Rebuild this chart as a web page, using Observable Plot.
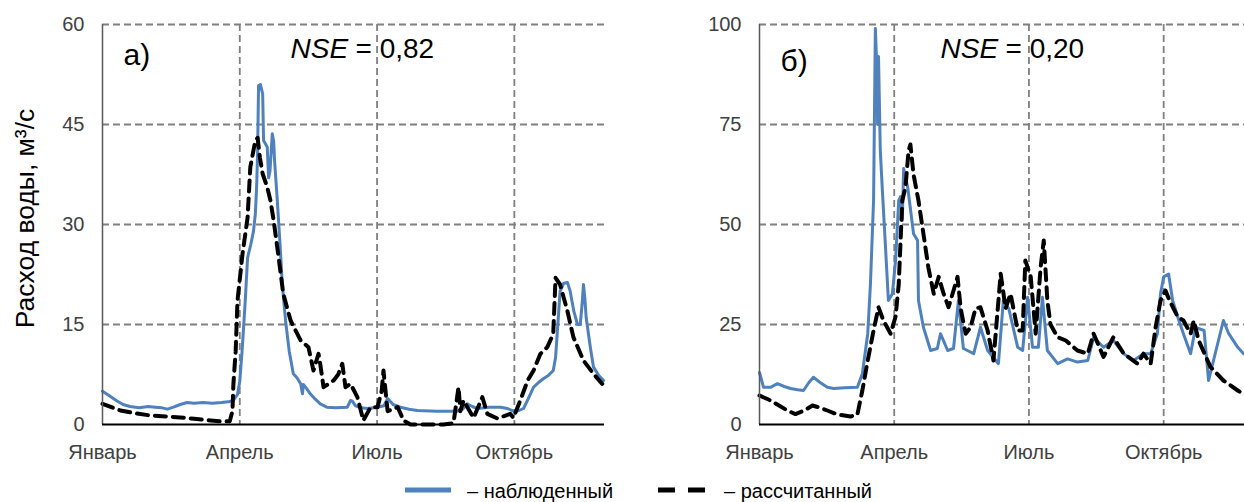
<!DOCTYPE html>
<html><head><meta charset="utf-8">
<script src="https://cdn.jsdelivr.net/npm/d3@7"></script>
<script src="https://cdn.jsdelivr.net/npm/@observablehq/plot@0.6"></script>
<style>
body{margin:0;background:#fff;font-family:"Liberation Sans",Arial,sans-serif;}
#wrap{position:relative;width:1244px;height:502px;overflow:hidden;background:#fff;}
#pa{position:absolute;left:0;top:0;}
#pb{position:absolute;left:640px;top:0;}
#legend{position:absolute;left:0;top:470px;}
</style></head><body>
<div id="wrap"><div id="pa"></div><div id="pb"></div>
<svg id="legend" width="1244" height="32" font-family="Liberation Sans, Arial, sans-serif" font-size="20">
  <line x1="405" x2="451" y1="20" y2="20" stroke="#4f81bd" stroke-width="5"/>
  <text x="467" y="28" fill="#000">– наблюденный</text>
  <line x1="658" x2="675" y1="20" y2="20" stroke="#000" stroke-width="5"/>
  <line x1="688" x2="705" y1="20" y2="20" stroke="#000" stroke-width="5"/>
  <text x="724" y="28" fill="#000">– рассчитанный</text>
</svg>
</div>
<script>
// month index (0 = 1 January, 3 = 1 April ...)
const monthTicks = [0, 3, 6, 9];
const monthNames = ["Январь", "Апрель", "Июль", "Октябрь"];
const yTicksA = [0, 15, 30, 45, 60];
const yTicksB = [0, 25, 50, 75, 100];
const yTitle = "Расход воды, м³/с";
const labelA = "а)";
const labelB = "б)";
const nseA = "0,82";
const nseB = "0,20";

// Panel a) observed
const aObsT = [0,0.15,0.3,0.45,0.6,0.8,1.0,1.15,1.3,1.42,1.55,1.7,1.85,2.0,2.2,2.4,2.6,2.75,2.86,2.95,3.0,3.05,3.12,3.17,3.24,3.3,3.34,3.37,3.39,3.41,3.45,3.5,3.52,3.57,3.6,3.63,3.66,3.71,3.74,3.76,3.82,3.88,3.93,4.0,4.08,4.17,4.25,4.33,4.37,4.39,4.45,4.54,4.65,4.76,4.9,5.1,5.35,5.42,5.46,5.53,5.65,5.79,6.01,6.15,6.23,6.35,6.51,6.7,6.88,7.3,7.76,7.87,7.97,8.08,8.19,8.45,8.7,8.85,8.98,9.1,9.2,9.3,9.42,9.53,9.64,9.75,9.85,9.9,9.93,9.96,10.0,10.08,10.16,10.22,10.3,10.38,10.44,10.48,10.51,10.54,10.57,10.66,10.73,10.85,10.95];
const aObsQ = [5.0,4.3,3.6,3.0,2.7,2.5,2.7,2.6,2.5,2.3,2.6,3.0,3.3,3.2,3.3,3.2,3.3,3.4,3.6,4.5,6.5,11,18.6,25,27,29,31.6,36,41,50.8,51,49.6,42.6,42,41.6,37,38,43.6,42.5,39.6,33.6,27,21,15.6,11,7.6,7,6.1,4.6,6,5.5,4.6,3.8,3.1,2.6,2.5,2.6,3.6,3.5,2.8,2.5,2.4,2.6,2.8,3.9,3.0,2.6,2.3,2.1,2.0,2.0,2.3,3.1,2.7,2.4,2.6,2.6,2.4,2.0,2.1,2.4,3.8,5.6,6.3,6.9,7.4,8.1,10,13,16,20,21.2,21.3,20,17,15,15,18,21,19,16,11.6,8.6,7.3,6.6];
// Panel a) simulated
const aSimT = [0,0.39,0.7,1.05,1.4,1.7,2.0,2.36,2.62,2.78,2.84,2.86,2.91,2.95,3.06,3.17,3.23,3.34,3.39,3.44,3.5,3.6,3.67,3.74,3.85,3.95,4.11,4.33,4.5,4.61,4.72,4.76,4.83,5.05,5.15,5.24,5.31,5.42,5.57,5.7,5.86,6.01,6.1,6.14,6.23,6.45,6.58,6.73,7.1,7.45,7.67,7.78,7.82,7.89,8.11,8.3,8.41,8.63,8.91,8.98,9.13,9.29,9.42,9.57,9.72,9.85,9.9,10.0,10.16,10.29,10.51,10.73,10.92];
const aSimQ = [3.1,2.1,1.7,1.35,1.2,1.05,0.85,0.6,0.45,0.5,2,6,11,18.6,25.6,31,38.6,42.6,43,40,37.6,35.6,33.6,30.6,25,19.6,15.6,12.6,11.6,8.1,10.6,9,5.6,6.6,7.5,9.1,5.6,6.1,4.1,0.6,2.6,2.6,5,8.1,2,2.6,0.6,0,0,0,0.2,5.6,2,3.6,1,4.1,1.6,0.9,1.6,1,3.6,6.6,8.1,10.6,11.6,13.6,22,21,17,13.1,9.6,7.6,6.1];

// Panel б) observed
const bObsT = [0,0.09,0.245,0.4,0.55,0.69,0.85,0.98,1.1,1.2,1.35,1.51,1.65,1.9,2.18,2.29,2.41,2.47,2.54,2.58,2.61,2.63,2.65,2.69,2.74,2.81,2.87,2.96,3.03,3.1,3.14,3.18,3.21,3.3,3.36,3.43,3.52,3.54,3.65,3.81,3.96,4.03,4.19,4.32,4.43,4.54,4.63,4.77,4.92,5.08,5.32,5.43,5.55,5.75,5.86,5.97,6.08,6.21,6.3,6.41,6.64,6.86,7.08,7.31,7.44,7.66,7.88,8.11,8.33,8.55,8.71,8.86,8.93,9.0,9.11,9.2,9.31,9.44,9.6,9.71,9.9,10.0,10.11,10.33,10.45,10.65,10.78];
const bObsQ = [13,9.3,9.3,10.2,9.5,9,8.7,8.5,10.5,11.8,10.5,9.3,9,9.2,9.3,12.7,22.7,35,56,99,90,75,92,68.5,57.7,43.5,31,32.7,41,56,57,51,64,59.3,54,47.7,46,31,24.3,18.5,19,22.7,18.5,19,31,19,18.5,17.7,24.3,18.5,15.2,31,29,19.3,18.5,31.8,19.3,19.3,31.8,18.5,15.2,16.4,15.6,16,21.8,19.3,21,17.7,16,17.7,17.7,22.7,32.7,36.9,37.6,31,27,22.7,17.7,24.3,23.5,11,16,26,22.7,19.3,17.7];
// Panel б) simulated
const bSimT = [0,0.245,0.62,0.8,1.0,1.07,1.18,1.35,1.51,1.74,2.03,2.18,2.29,2.41,2.54,2.65,2.76,2.92,3.03,3.1,3.18,3.25,3.32,3.36,3.43,3.54,3.65,3.76,3.88,3.99,4.1,4.21,4.41,4.48,4.59,4.7,4.81,4.92,5.08,5.21,5.37,5.48,5.59,5.75,5.86,5.92,6.04,6.15,6.26,6.33,6.41,6.48,6.64,6.82,7.08,7.31,7.44,7.66,7.88,8.11,8.42,8.55,8.71,8.82,8.93,9.04,9.13,9.31,9.44,9.6,9.67,9.78,10.04,10.33,10.65,10.78];
const bSimQ = [7.25,6,3.5,2.6,3.5,4,4.75,4.2,3.5,2.5,2,2.5,8.5,16,23.5,29.3,26,22.7,27,35,56,59.3,68.5,70,62.5,56,47.7,39.3,32.7,36.9,32.7,29.3,36.9,29,22.7,24.3,29,29.3,23.5,16,37.7,29,32.7,23.5,23.5,41,36.9,22.7,39.3,46,31,25,21.8,21,18.5,17.7,22.7,16.9,21.8,17.7,15.2,17.7,15.2,24.3,31,33.5,31,27,26,22.7,26,21,14.4,11,8.5,7.6];

const FONT = "Liberation Sans, Arial, sans-serif";

function panel(o) {
  const obs = o.obsT.map((t, i) => ({t, q: o.obsQ[i]}));
  const sim = o.simT.map((t, i) => ({t, q: o.simQ[i]}));
  const marks = [
    Plot.ruleY(o.yTicks.filter(d => d > 0), {stroke: "#808080", strokeWidth: 1.8, strokeDasharray: "7,4"}),
    Plot.ruleX(monthTicks.filter(d => d > 0), {stroke: "#808080", strokeWidth: 1.8, strokeDasharray: "7,4"}),
    Plot.lineY(obs, {x: "t", y: "q", stroke: "#4f81bd", strokeWidth: 3, strokeLinejoin: "round"}),
    Plot.lineY(sim, {x: "t", y: "q", stroke: "#000", strokeWidth: 4, strokeDasharray: "11,7"}),
    Plot.ruleX([0], {stroke: "#595959", strokeWidth: 1.5}),
    Plot.ruleY([0], {stroke: "#000", strokeWidth: 2}),
    Plot.axisX({ticks: monthTicks, tickSize: 0, tickPadding: 20, label: null, fill: "#404040",
      tickFormat: d => monthNames[monthTicks.indexOf(d)]}),
    Plot.axisY({ticks: o.yTicks, tickSize: 0, tickPadding: 18, label: null, fill: "#404040"}),
    Plot.text([o.label], {frameAnchor: "top-left", textAnchor: "start", lineAnchor: "middle",
      dx: 21, dy: o.labelDy, fontSize: 30, fill: "#000"}),
    Plot.text(["NSE"], {frameAnchor: "top-left", textAnchor: "start", lineAnchor: "middle",
      dx: o.nseDx, dy: 25, fontSize: 28, fontStyle: "italic", fill: "#000"}),
    Plot.text(["= " + o.nse], {frameAnchor: "top-left", textAnchor: "start", lineAnchor: "middle",
      dx: o.nseDx + 65, dy: 25, fontSize: 28, fill: "#000"})
  ];
  if (o.title) {
    marks.push(Plot.text([o.title], {frameAnchor: "left", rotate: -90, textAnchor: "middle",
      lineAnchor: "middle", dx: -77, dy: -6, fontSize: 26.5, fill: "#000"}));
  }
  return Plot.plot({
    width: o.width, height: 470,
    marginLeft: o.marginLeft, marginRight: o.marginRight, marginTop: 24, marginBottom: 46,
    style: {fontFamily: FONT, fontSize: "20px", background: "transparent", overflow: "visible"},
    x: {domain: [0, o.xMax]},
    y: {domain: [0, o.yTicks[o.yTicks.length - 1]]},
    marks
  });
}

document.getElementById("pa").append(panel({
  obsT: aObsT, obsQ: aObsQ, simT: aSimT, simQ: aSimQ, yTicks: yTicksA, xMax: 10.97,
  width: 620, marginLeft: 102, marginRight: 16, label: labelA, labelDy: 31, nse: nseA, nseDx: 188, title: yTitle
}));
document.getElementById("pb").append(panel({
  obsT: bObsT, obsQ: bObsQ, simT: bSimT, simQ: bSimQ, yTicks: yTicksB, xMax: 10.8,
  width: 604, marginLeft: 119, marginRight: 0, label: labelB, labelDy: 37, nse: nseB, nseDx: 181, title: null
}));
</script>
</body></html>
